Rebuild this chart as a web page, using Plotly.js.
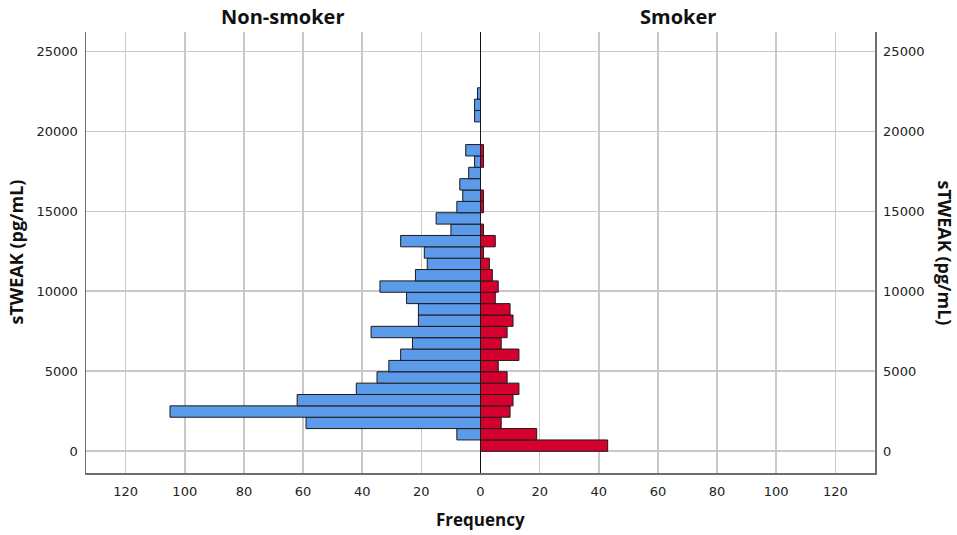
<!DOCTYPE html>
<html>
<head>
<meta charset="utf-8">
<script src="https://cdn.plot.ly/plotly-3.0.1.min.js"></script>
<style>
    body { margin: 0; background: #fff; }
    #plot { width: 957px; height: 535px; }
</style>
</head>
<body>
<div id="plot"></div>
<script>
// sTWEAK histogram bins, counted from 0 upward
let binWidth = 710;
let nonSmoker = [0, 8, 59, 105, 62, 42, 35, 31, 27, 23, 37, 21, 21, 25, 34, 22,
    18, 19, 27, 10, 15, 8, 6, 7, 4, 2, 5, 0, 0, 2, 2, 1];
let smoker = [43, 19, 7, 10, 11, 13, 9, 6, 13, 7, 9, 11, 10, 5, 6, 4,
    3, 1, 5, 1, 0, 1, 1, 0, 0, 1, 1, 0, 0, 0, 0, 0];

let freqTicks = [-120, -100, -80, -60, -40, -20, 0, 20, 40, 60, 80, 100, 120];
let tweakTicks = [0, 5000, 10000, 15000, 20000, 25000];

let centers = nonSmoker.map((v, i) => i * binWidth + binWidth / 2);

let barLine = {color: '#1a1a1a', width: 1};

let data = [
    {
        type: 'bar',
        orientation: 'h',
        name: 'Non-smoker',
        y: centers,
        x: nonSmoker.map(v => -v),
        width: binWidth,
        marker: {color: '#5b9be9', line: barLine},
        hoverinfo: 'skip'
    },
    {
        type: 'bar',
        orientation: 'h',
        name: 'Smoker',
        y: centers,
        x: smoker,
        width: binWidth,
        yaxis: 'y2',
        marker: {color: '#d6002f', line: barLine},
        hoverinfo: 'skip'
    }
];

let tickFont = {family: 'DejaVu Sans, sans-serif', size: 13, color: '#222'};
let titleFont = {family: 'Open Sans, sans-serif', size: 18, color: '#111', weight: 'bold'};
let yRange = [-1356, 26206];

let layout = {
    width: 957,
    height: 535,
    margin: {l: 86, r: 82, t: 31.7, b: 62.3, pad: 0},
    paper_bgcolor: '#fff',
    plot_bgcolor: '#fff',
    showlegend: false,
    barmode: 'overlay',
    font: tickFont,
    xaxis: {
        range: [-133.4, 133.4],
        tickvals: freqTicks,
        ticktext: freqTicks.map(v => String(Math.abs(v))),
        ticks: 'outside',
        ticklen: 6,
        tickcolor: 'rgba(0,0,0,0)',
        showgrid: true,
        gridcolor: '#c8c8c8',
        gridwidth: 1.6,
        zeroline: true,
        zerolinecolor: '#111',
        zerolinewidth: 1.5,
        showline: true,
        linecolor: '#6e6e6e',
        linewidth: 1.5,
        tickfont: tickFont,
        fixedrange: true
    },
    yaxis: {
        range: yRange,
        tickvals: tweakTicks,
        ticktext: tweakTicks.map(String),
        ticks: 'outside',
        ticklen: 4,
        tickcolor: 'rgba(0,0,0,0)',
        showgrid: true,
        gridcolor: '#c8c8c8',
        gridwidth: 1.6,
        zeroline: false,
        showline: true,
        linecolor: '#6e6e6e',
        linewidth: 1.5,
        tickfont: tickFont,
        fixedrange: true
    },
    yaxis2: {
        range: yRange,
        overlaying: 'y',
        side: 'right',
        tickvals: tweakTicks,
        ticktext: tweakTicks.map(String),
        ticks: 'outside',
        ticklen: 4,
        tickcolor: 'rgba(0,0,0,0)',
        showgrid: false,
        zeroline: false,
        showline: true,
        linecolor: '#6e6e6e',
        linewidth: 1.5,
        tickfont: tickFont,
        fixedrange: true
    },
    annotations: [
        {
            text: 'Non-smoker', xref: 'paper', yref: 'paper', x: 0.25, y: 1,
            xanchor: 'center', yanchor: 'middle', yshift: 16, showarrow: false,
            font: {family: 'Open Sans, sans-serif', size: 20, color: '#111', weight: 'bold'}
        },
        {
            text: 'Smoker', xref: 'paper', yref: 'paper', x: 0.75, y: 1,
            xanchor: 'center', yanchor: 'middle', yshift: 16, showarrow: false,
            font: {family: 'Open Sans, sans-serif', size: 20, color: '#111', weight: 'bold'}
        },
        {
            text: 'Frequency', xref: 'paper', yref: 'paper', x: 0.5, y: 0,
            xanchor: 'center', yanchor: 'middle', yshift: -46, showarrow: false,
            font: {family: 'Open Sans, sans-serif', size: 17, color: '#111', weight: 'bold'}
        },
        {
            text: 'sTWEAK (pg/mL)', xref: 'paper', yref: 'paper', x: 0, y: 0.5,
            xanchor: 'center', yanchor: 'middle', xshift: -71, textangle: -90, showarrow: false,
            font: titleFont
        },
        {
            text: 'sTWEAK (pg/mL)', xref: 'paper', yref: 'paper', x: 1, y: 0.5,
            xanchor: 'center', yanchor: 'middle', xshift: 70, textangle: 90, showarrow: false,
            font: titleFont
        }
    ]
};

Plotly.newPlot('plot', data, layout, {displayModeBar: false, staticPlot: true});
</script>
</body>
</html>
